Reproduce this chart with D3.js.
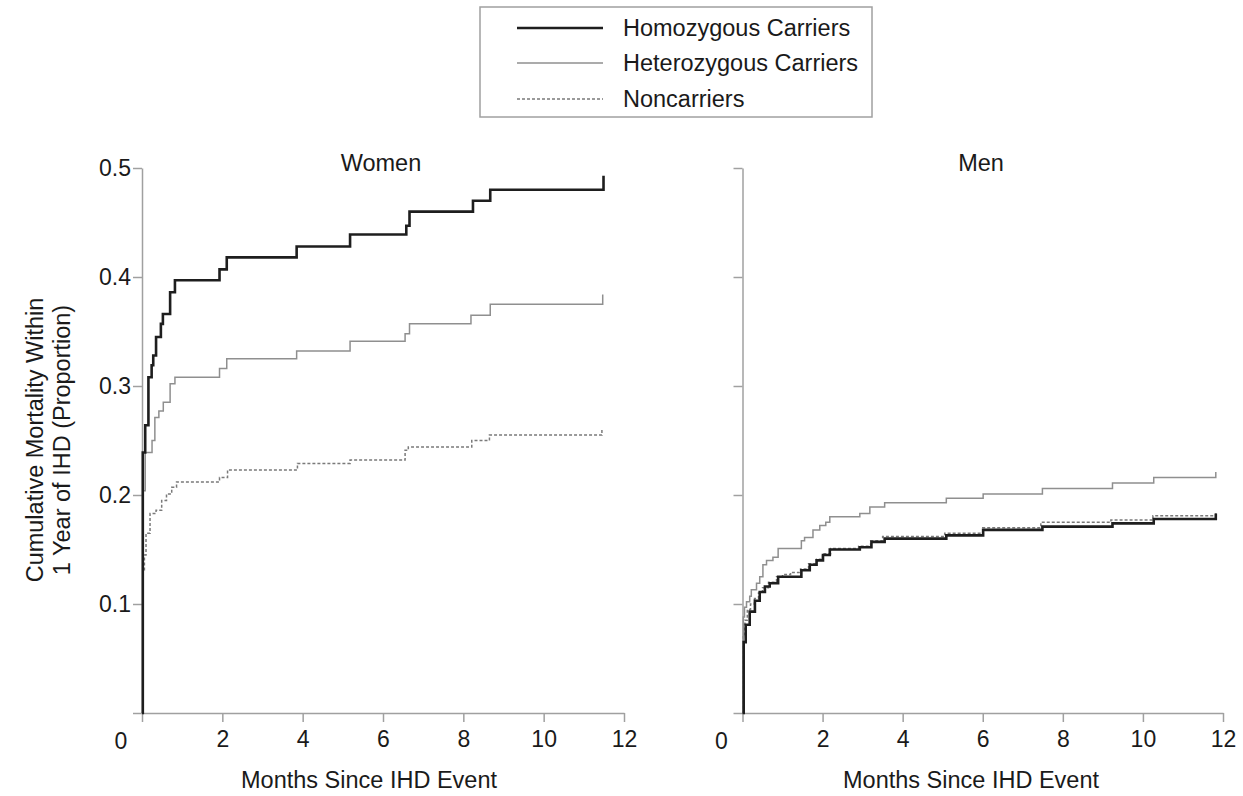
<!DOCTYPE html>
<html>
<head>
<meta charset="utf-8">
<script src="https://cdn.jsdelivr.net/npm/d3@7"></script>
<style>
  html, body { margin: 0; padding: 0; background: #fff; }
  svg { display: block; }
  text { font-family: "Liberation Sans", Arial, Helvetica, sans-serif; fill: #1a1a1a; }
</style>
</head>
<body>
<svg id="chart" width="1243" height="796"></svg>
<script>
// ---------------- DATA ----------------
const seriesNames = ["Homozygous Carriers", "Heterozygous Carriers", "Noncarriers"];
const panels = ["Women", "Men"];
const xTicks = [0, 2, 4, 6, 8, 10, 12];
const yTicks = [0, 0.1, 0.2, 0.3, 0.4, 0.5];
const yTickLabels = ["", "0.1", "0.2", "0.3", "0.4", "0.5"];
const xLabel = "Months Since IHD Event";
const yLabelLines = ["Cumulative Mortality Within", "1 Year of IHD (Proportion)"];

// step points: [month, cumulative mortality] (value holds from that month on)
const womenHomozygous = [[0,0],[0.02,0.239],[0.08,0.264],[0.16,0.308],[0.24,0.319],[0.28,0.328],[0.35,0.345],[0.47,0.357],[0.52,0.366],[0.70,0.386],[0.82,0.397],[1.93,0.407],[2.11,0.418],[3.85,0.428],[5.18,0.439],[6.58,0.447],[6.66,0.460],[8.24,0.470],[8.67,0.480],[11.49,0.493]];
const womenHeterozygous = [[0,0],[0.02,0.204],[0.08,0.239],[0.25,0.250],[0.32,0.271],[0.42,0.277],[0.53,0.285],[0.70,0.302],[0.82,0.308],[1.93,0.316],[2.11,0.325],[3.85,0.332],[5.18,0.341],[6.55,0.348],[6.66,0.357],[8.19,0.365],[8.67,0.375],[11.47,0.384]];
const womenNoncarriers = [[0,0],[0.02,0.130],[0.06,0.145],[0.10,0.165],[0.20,0.183],[0.35,0.186],[0.49,0.195],[0.61,0.201],[0.74,0.207],[0.86,0.212],[1.93,0.216],[2.13,0.223],[3.87,0.229],[5.18,0.232],[6.55,0.241],[6.63,0.244],[8.21,0.250],[8.65,0.255],[11.45,0.261]];

const menHomozygous = [[0,0],[0.03,0.065],[0.08,0.081],[0.18,0.093],[0.31,0.103],[0.43,0.111],[0.56,0.116],[0.68,0.119],[0.89,0.125],[1.47,0.131],[1.68,0.136],[1.85,0.140],[2.01,0.145],[2.18,0.150],[2.93,0.152],[3.22,0.157],[3.55,0.160],[5.09,0.163],[6.01,0.168],[7.49,0.171],[9.24,0.174],[10.27,0.178],[11.82,0.183]];
const menHeterozygous = [[0,0],[0.02,0.088],[0.05,0.097],[0.10,0.102],[0.18,0.107],[0.22,0.113],[0.35,0.119],[0.43,0.125],[0.51,0.136],[0.60,0.140],[0.76,0.143],[0.89,0.151],[1.47,0.158],[1.55,0.161],[1.76,0.168],[1.93,0.172],[2.08,0.175],[2.18,0.180],[2.93,0.183],[3.18,0.189],[3.55,0.193],[5.09,0.197],[6.01,0.201],[7.49,0.206],[9.24,0.211],[10.27,0.216],[11.82,0.221]];
const menNoncarriers = [[0,0],[0.02,0.070],[0.06,0.085],[0.12,0.095],[0.20,0.100],[0.30,0.105],[0.40,0.110],[0.50,0.115],[0.65,0.120],[0.85,0.125],[1.00,0.127],[1.20,0.129],[1.45,0.132],[1.65,0.137],[1.85,0.141],[2.00,0.146],[2.20,0.151],[2.90,0.153],[3.20,0.158],[3.50,0.162],[5.05,0.165],[6.00,0.170],[7.45,0.175],[9.20,0.177],[10.25,0.181],[11.82,0.185]];

// ---------------- LAYOUT / STYLE ----------------
const svg = d3.select("#chart");
const plotTop = 168, plotBottom = 713;
const panelX = [[142, 624], [742.5, 1223]];
const FONT = 23.5, TICKFONT = 23;
const styles = [
  { color: "#1e1e1e", width: 2.6, dash: null },
  { color: "#8f8f8f", width: 1.5, dash: null },
  { color: "#7a7a7a", width: 1.5, dash: "3,2" }
];
const panelData = [
  [womenNoncarriers, womenHeterozygous, womenHomozygous],
  [menNoncarriers, menHeterozygous, menHomozygous]
];
const titleX = [381, 981];
const xLabelX = [369, 971];

const y = d3.scaleLinear().domain([0, 0.5]).range([plotBottom, plotTop]);

panels.forEach((name, pi) => {
  const x = d3.scaleLinear().domain([0, 12]).range(panelX[pi]);
  const g = svg.append("g");

  const xa = g.append("g").attr("transform", `translate(0,${plotBottom})`)
    .call(d3.axisBottom(x).tickValues(xTicks).tickSize(9).tickSizeOuter(0).tickPadding(9)
      .tickFormat(d => d === 0 ? "" : d));
  const ya = g.append("g").attr("transform", `translate(${panelX[pi][0]},0)`)
    .call(d3.axisLeft(y).tickValues(yTicks).tickSize(9).tickSizeOuter(0).tickPadding(2)
      .tickFormat((d, i) => pi === 0 ? yTickLabels[i] : ""));
  [xa, ya].forEach(a => {
    a.selectAll("path.domain").attr("stroke", "#a0a0a0").attr("stroke-width", 1.5);
    a.selectAll(".tick line").attr("stroke", "#a0a0a0").attr("stroke-width", 1.5);
    a.selectAll(".tick text").attr("font-size", TICKFONT).attr("fill", "#1a1a1a")
      .attr("font-family", "'Liberation Sans', Arial, sans-serif");
  });
  // origin label "0" shared by both axes
  g.append("text").attr("x", panelX[pi][0] - 21).attr("y", plotBottom + 36)
    .attr("text-anchor", "middle").attr("font-size", TICKFONT).text("0");

  g.append("text").attr("x", xLabelX[pi]).attr("y", 788)
    .attr("text-anchor", "middle").attr("font-size", FONT).text(xLabel);
  g.append("text").attr("x", titleX[pi]).attr("y", 171)
    .attr("text-anchor", "middle").attr("font-size", FONT).text(name);

  const line = d3.line().x(d => x(d[0])).y(d => y(d[1])).curve(d3.curveStepAfter);
  [2, 1, 0].forEach((si, k) => {
    const data = panelData[pi][k];
    const st = styles[si];
    g.append("path").datum(data).attr("d", line)
      .attr("fill", "none").attr("stroke", st.color).attr("stroke-width", st.width)
      .attr("stroke-dasharray", st.dash).attr("stroke-linejoin", "miter");
  });
});

yLabelLines.forEach((t, i) => {
  svg.append("text").attr("transform", `translate(${43 + i * 27},440) rotate(-90)`)
    .attr("text-anchor", "middle").attr("font-size", FONT).text(t);
});

const lg = svg.append("g");
lg.append("rect").attr("x", 480).attr("y", 7).attr("width", 392).attr("height", 110)
  .attr("fill", "#fff").attr("stroke", "#a0a0a0").attr("stroke-width", 1.5);
const legRows = [28, 63, 99];
seriesNames.forEach((s, i) => {
  const st = styles[i];
  lg.append("line").attr("x1", 517).attr("x2", 603).attr("y1", legRows[i]).attr("y2", legRows[i])
    .attr("stroke", st.color).attr("stroke-width", st.width).attr("stroke-dasharray", st.dash);
  lg.append("text").attr("x", 623).attr("y", legRows[i] + 8).attr("font-size", FONT).text(s);
});
</script>
</body>
</html>
